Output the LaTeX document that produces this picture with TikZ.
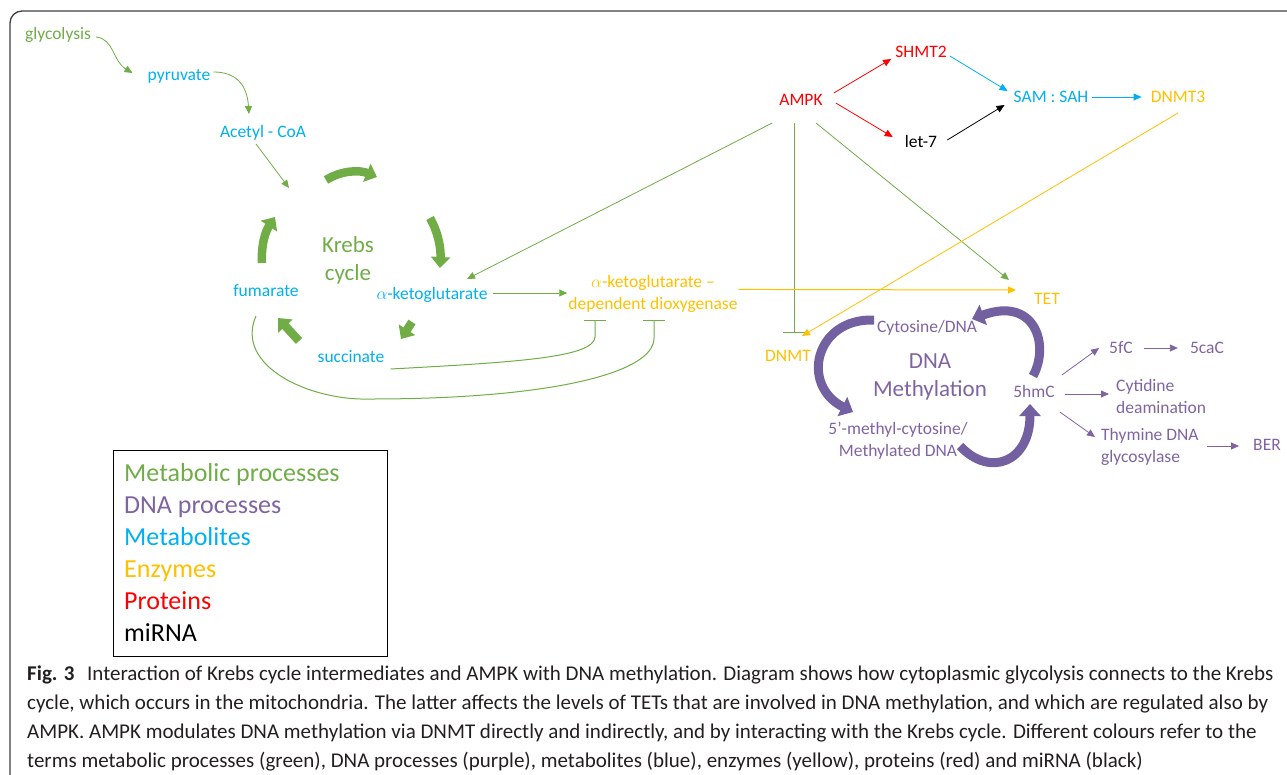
\documentclass[tikz,border=0pt]{standalone}
\usepackage{fontspec}
\setmainfont{Carlito}
\usetikzlibrary{arrows.meta}

\definecolor{metgreen}{HTML}{70AD47}
\definecolor{metblue}{HTML}{00B0F0}
\definecolor{enzyellow}{HTML}{FFC000}
\definecolor{protred}{HTML}{FF0000}
\definecolor{dnapurple}{HTML}{8064A2}
\definecolor{cyclepurple}{HTML}{7360A0}
\definecolor{framegray}{HTML}{3F3F3F}
\definecolor{captext}{HTML}{231F20}

\tikzset{
  lbl/.style={font=\fontsize{17.5}{22}\selectfont, inner sep=1pt},
  biglbl/.style={font=\fontsize{23}{28}\selectfont, inner sep=1pt, align=center},
  legendtxt/.style={font=\fontsize{26}{30}\selectfont, inner sep=0pt},
  link/.style={line width=0.8pt, -{Triangle[length=8pt,width=7pt]}},
  inhib/.style={line width=1pt, -{Bar[width=22pt,line width=1.2pt]}},
  cyclearrow/.style={line width=8.5pt, -{Triangle[length=11pt,width=19pt]}},
}

\begin{document}
\begin{tikzpicture}[x=1pt,y=-1pt]
  \useasboundingbox (0,0) rectangle (1287,774);
  \clip (0,0) rectangle (1287,774);
  \draw[framegray, line width=1.3pt, rounded corners=12pt] (10,800) -- (10,11) -- (1300,11);

  % metabolic side
  \node[lbl, text=metgreen, anchor=base] (glyc) at (58,39) {glycolysis};
  \node[lbl, text=metblue, anchor=base] (pyr) at (179,80) {pyruvate};
  \node[lbl, text=metblue, anchor=base] (acoa) at (263,137) {Acetyl - CoA};
  \node[biglbl, text=metgreen, anchor=base] (krebs) at (348,280) {Krebs\\cycle};
  \node[lbl, text=metblue, anchor=base] (fum) at (266,296) {fumarate};
  \node[lbl, text=metblue, anchor=base] (akg) at (432,299) {$\alpha$-ketoglutarate};
  \node[lbl, text=metblue, anchor=base] (succ) at (351,362) {succinate};
  \node[lbl, text=enzyellow, anchor=base, align=center] (diox) at (653,309) {$\alpha$-ketoglutarate --\\dependent dioxygenase};

  % AMPK side
  \node[lbl, text=protred, anchor=base] (ampk) at (801,105) {AMPK};
  \node[lbl, text=protred, anchor=base] (shmt) at (921,57) {SHMT2};
  \node[lbl, anchor=base] (let) at (921,147) {let-7};
  \node[lbl, text=metblue, anchor=base] (sam) at (1051,102) {SAM : SAH};
  \node[lbl, text=enzyellow, anchor=base] (dnmtthree) at (1178,102) {DNMT3};
  \node[lbl, text=enzyellow, anchor=base] (tet) at (1047,304) {TET};
  \node[lbl, text=enzyellow, anchor=base] (dnmt) at (788,361) {DNMT};

  % DNA methylation
  \node[lbl, text=dnapurple, anchor=base] (cyto) at (927,332) {Cytosine/DNA};
  \node[biglbl, text=dnapurple, anchor=base] (meth) at (930,396) {DNA\\Methylation};
  \node[lbl, text=dnapurple, anchor=base] (hmc) at (1034,397) {5hmC};
  \node[lbl, text=dnapurple, anchor=base, align=center] (mcyt) at (898,456) {5’-methyl-cytosine/\\Methylated DNA};
  \node[lbl, text=dnapurple, anchor=base] (ffc) at (1121,353) {5fC};
  \node[lbl, text=dnapurple, anchor=base] (cac) at (1207,353) {5caC};
  \node[lbl, text=dnapurple, anchor=base west, align=left] (cyt) at (1115,413) {Cytidine\\deamination};
  \node[lbl, text=dnapurple, anchor=base west, align=left] (thy) at (1100,462) {Thymine DNA\\glycosylase};
  \node[lbl, text=dnapurple, anchor=base] (ber) at (1267,450) {BER};

  \coordinate (cyclein) at (289,188);
  \coordinate (fumlow) at (370,399);

  % glycolysis into the cycle
  \draw[link, metgreen] ([xshift=4pt,yshift=2pt]glyc.base east) .. controls +(18,2) and +(-20,-12) .. ([xshift=-14pt,yshift=7pt]pyr.base west);
  \draw[link, metgreen] ([xshift=2pt,yshift=8pt]pyr.base east) .. controls +(22,0) and +(-2,-30) .. ([xshift=-14pt,yshift=23pt]acoa.base);
  \draw[link, metgreen] ([xshift=-7pt,yshift=-7pt]acoa.base) -- (cyclein);

  % Krebs cycle
  \draw[cyclearrow, metgreen] (326,180) .. controls (342,170) and (360,170) .. (377,177);
  \draw[cyclearrow, metgreen] (430,218) .. controls (438,232) and (441,248) .. (440,268);
  \draw[cyclearrow, metgreen] (412,322) -- (401,339);
  \draw[cyclearrow, metgreen] (299,341) -- (278,318);
  \draw[cyclearrow, metgreen] (262,263) .. controls (261,246) and (265,232) .. (275,217);

  \draw[link, metgreen] ([xshift=4pt,yshift=6pt]akg.base east) coordinate (akgout) -- (akgout -| diox.west);
  \draw[inhib, metgreen] ([xshift=5pt,yshift=-7pt]succ.base east) .. controls +(130,-7) and +(-2,20) .. ([xshift=-58pt,yshift=-24pt]diox.south) -- ([xshift=-58pt,yshift=-7pt]diox.south);
  \draw[inhib, metgreen] ([xshift=-10pt,yshift=-20pt]fum.base) .. controls +(-22,50) and +(-60,2) .. (fumlow) .. controls +(180,0) and +(0,35) .. ([xshift=1pt,yshift=-25pt]diox.south) -- ([xshift=1pt,yshift=-7pt]diox.south);

  % AMPK links
  \draw[link, metgreen] ([xshift=-6pt,yshift=-18pt]ampk.base west) -- ([xshift=35pt,yshift=20pt]akg.base);
  \draw[link, metgreen] ([xshift=15pt,yshift=-18pt]ampk.base) -- ([xshift=-24pt,yshift=24pt]tet.base west);
  \draw[inhib, metgreen] ([xshift=-7pt,yshift=-18pt]ampk.base) -- ([xshift=6pt,yshift=28pt]dnmt.base);
  \draw[link, protred] ([xshift=10pt,yshift=12pt]ampk.base east) -- ([xshift=-3pt,yshift=-2pt]shmt.base west);
  \draw[link, protred] ([xshift=12pt,yshift=2pt]ampk.base east) -- ([xshift=-11pt,yshift=10pt]let.base west);
  \draw[link, metblue] ([xshift=2pt,yshift=1pt]shmt.base east) -- ([xshift=-5pt,yshift=11pt]sam.base west);
  \draw[link, black] ([xshift=9pt,yshift=7pt]let.base east) -- ([xshift=-8pt,yshift=-3pt]sam.base west);
  \draw[link, metblue] ([xshift=3pt,yshift=5pt]sam.base east) -- ([xshift=-8pt,yshift=5pt]dnmtthree.base west);
  \draw[link, enzyellow] ([yshift=-11pt]dnmtthree.base) -- ([xshift=14pt,yshift=25pt]dnmt.base);
  \draw[link, enzyellow, line width=1pt] ([yshift=4pt]diox.east) -- ([xshift=-17pt,yshift=14pt]tet.base west);

  % DNA methylation cycle
  \draw[cyclearrow, cyclepurple, line width=9pt, -{Triangle[length=12pt,width=21pt]}] (1033,376) .. controls (1050,345) and (1035,296) .. (972,319);
  \draw[cyclearrow, cyclepurple, line width=9pt, -{Triangle[length=12pt,width=21pt]}] (874,320) .. controls (815,318) and (800,385) .. (853,412);
  \draw[cyclearrow, cyclepurple, line width=9pt, -{Triangle[length=12pt,width=21pt]}] (960,446) .. controls (990,478) and (1030,462) .. (1030,404);

  \draw[link, dnapurple] ([xshift=6pt,yshift=22pt]hmc.base east) -- ([xshift=-9pt,yshift=5pt]ffc.base west);
  \draw[link, dnapurple] ([xshift=10pt,yshift=5pt]ffc.base east) -- ([xshift=-11pt,yshift=5pt]cac.base west);
  \draw[link, dnapurple] ([xshift=9pt,yshift=3pt]hmc.base east) -- ([xshift=-6pt,yshift=19pt]cyt.base west);
  \draw[link, dnapurple] ([xshift=4pt,yshift=-15pt]hmc.base east) -- ([xshift=-5pt,yshift=25pt]thy.base west);
  \draw[link, dnapurple] ([xshift=7pt,yshift=16pt]thy.base east) -- ([xshift=-13pt,yshift=4pt]ber.base west);

  % legend
  \node[draw, line width=0.8pt, anchor=north west, minimum width=274pt, minimum height=206pt, inner sep=0pt] (legend) at (113,450) {};
  \foreach \txt/\col [count=\i from 0] in {Metabolic processes/metgreen, DNA processes/dnapurple, Metabolites/metblue, Enzymes/enzyellow, Proteins/protred, miRNA/black}
    \node[legendtxt, text=\col, anchor=base west] (leg\i) at (124,{481+32.1*\i}) {\txt};

  % caption
  \node[font=\fontsize{21}{28.8}\selectfont, text=captext, inner sep=0pt, anchor=base west, align=left] (caption) at (27,767)
    {\textbf{Fig. 3}\hspace{0.6em}Interaction of Krebs cycle intermediates and AMPK with DNA methylation. Diagram shows how cytoplasmic glycolysis connects to the Krebs\\
     cycle, which occurs in the mitochondria. The latter affects the levels of TETs that are involved in DNA methylation, and which are regulated also by\\
     AMPK. AMPK modulates DNA methylation via DNMT directly and indirectly, and by interacting with the Krebs cycle. Different colours refer to the\\
     terms metabolic processes (green), DNA processes (purple), metabolites (blue), enzymes (yellow), proteins (red) and miRNA (black)};
\end{tikzpicture}
\end{document}
